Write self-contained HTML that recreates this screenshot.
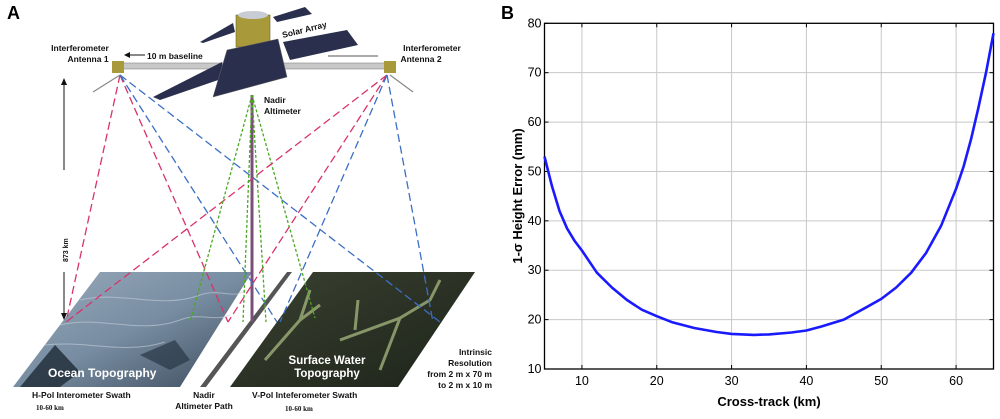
<!DOCTYPE html>
<html><head><meta charset="utf-8"><style>
html,body{margin:0;padding:0;background:#fff;}
svg{display:block;font-family:"Liberation Sans",sans-serif;}
</style></head><body>
<svg id="fig" width="1000" height="419" viewBox="0 0 1000 419">
<defs>
<linearGradient id="oc" x1="0" y1="0" x2="1" y2="1"><stop offset="0" stop-color="#9aabbc"/><stop offset="0.5" stop-color="#788da2"/><stop offset="1" stop-color="#3a4858"/></linearGradient>
<linearGradient id="sw" x1="0" y1="0" x2="1" y2="1"><stop offset="0" stop-color="#3a4232"/><stop offset="1" stop-color="#1d2319"/></linearGradient>
</defs>
<g>
<text x="7" y="19" font-size="18" font-weight="bold">A</text>
<polygon points="13,387 100,272 252,272 180,387" fill="url(#oc)"/>
<g stroke="#c5d0db" stroke-width="1" fill="none" opacity="0.6">
<path d="M80,300 C120,290 160,310 200,295 C220,288 235,300 245,290"/>
<path d="M60,325 C100,315 140,335 180,320 C200,312 215,322 230,315"/>
<path d="M45,345 C85,340 125,355 165,342"/>
</g>
<polygon points="20,387 55,345 80,372 60,387" fill="#1e2a36" opacity="0.8"/>
<polygon points="140,355 175,340 190,360 170,370" fill="#2a3846" opacity="0.7"/>
<polygon points="200,387 287,272 292,272 206,387" fill="#555"/>
<polygon points="230,387 313,272 475,272 398,387" fill="url(#sw)"/>
<g stroke="#9fb07a" stroke-width="3" fill="none" opacity="0.8">
<path d="M265,360 L300,320 L320,305 M300,320 L310,290"/>
<path d="M340,340 L400,318 L430,300 L440,280 M400,318 L380,370"/>
<path d="M355,330 L358,300"/>
</g>
<text x="48" y="377" font-size="12" font-weight="bold" fill="#fff">Ocean Topography</text>
<text x="327" y="364" font-size="11.5" font-weight="bold" fill="#fff" text-anchor="middle">Surface Water</text>
<text x="327" y="377" font-size="11.5" font-weight="bold" fill="#fff" text-anchor="middle">Topography</text>
<line x1="252" y1="95" x2="252" y2="322" stroke="#7a4f7a" stroke-width="3"/>
<g fill="none" stroke-width="1.3" stroke-dasharray="8,4">
<g stroke="#d8336a">
<line x1="120" y1="75" x2="66" y2="322"/><line x1="120" y1="75" x2="228" y2="322"/>
<line x1="387" y1="75" x2="66" y2="322"/><line x1="387" y1="75" x2="228" y2="322"/>
</g>
<g stroke="#3c6fc4">
<line x1="120" y1="75" x2="277" y2="322"/><line x1="120" y1="75" x2="440" y2="322"/>
<line x1="387" y1="75" x2="280" y2="322"/><line x1="387" y1="75" x2="433" y2="322"/>
</g>
<g stroke="#4aa820" stroke-dasharray="3,2">
<line x1="252" y1="95" x2="190" y2="322"/><line x1="252" y1="95" x2="243" y2="322"/>
<line x1="252" y1="95" x2="266" y2="322"/><line x1="252" y1="95" x2="315" y2="318"/>
</g>
</g>
<g>
<rect x="120" y="63" width="270" height="6" fill="#c8c8c8" stroke="#888" stroke-width="0.6"/>
<polygon points="200,42 233,23 235,32 203,43" fill="#2a2f4d"/>
<polygon points="273,17 305,7 312,14 277,22" fill="#2a2f4d"/>
<rect x="236" y="15" width="34" height="32" fill="#a89a3a" stroke="#6e6420" stroke-width="0.6"/>
<ellipse cx="253" cy="15" rx="15" ry="4" fill="#c8ccd4"/>
<polygon points="153,97 222,62 224,78 160,100" fill="#2a2f4d"/>
<polygon points="283,42 347,30 358,45 290,60" fill="#2a2f4d"/>
<polygon points="227,50 278,39 287,77 213,97" fill="#2a2f4d" stroke="#666" stroke-width="0.5"/>
<rect x="112" y="61" width="12" height="12" fill="#a89a3a"/>
<rect x="384" y="61" width="12" height="12" fill="#a89a3a"/>
<line x1="120" y1="75" x2="93" y2="92" stroke="#888" stroke-width="1.2"/>
<line x1="390" y1="75" x2="413" y2="92" stroke="#888" stroke-width="1.2"/>
</g>
<g font-size="8.5" font-weight="bold" fill="#111">
<text x="80" y="51" text-anchor="middle">Interferometer</text>
<text x="88" y="62" text-anchor="middle">Antenna 1</text>
<text x="432" y="51" text-anchor="middle">Interferometer</text>
<text x="421" y="62" text-anchor="middle">Antenna 2</text>
<text x="147" y="59">10 m baseline</text>
<line x1="126" y1="55" x2="145" y2="55" stroke="#111"/><polygon points="124,55 130,52 130,58" fill="#111"/>
<line x1="328" y1="56" x2="378" y2="56" stroke="#555"/>
<text x="283" y="38" transform="rotate(-14 283 38)">Solar Array</text>
<text x="264" y="103">Nadir</text><text x="264" y="114">Altimeter</text>
<line x1="64" y1="80" x2="64" y2="170" stroke="#111"/><polygon points="64,78 61,85 67,85" fill="#111"/>
<line x1="64" y1="272" x2="64" y2="318" stroke="#111"/><polygon points="64,320 61,313 67,313" fill="#111"/>
<text x="68" y="262" transform="rotate(-90 68 262)" font-size="7">873 km</text>
<text x="32" y="398">H-Pol Interometer Swath</text>
<text x="36" y="410" font-size="7" font-family="Liberation Serif,serif">10-60 km</text>
<text x="204" y="398" text-anchor="middle">Nadir</text>
<text x="204" y="409" text-anchor="middle">Altimeter Path</text>
<text x="252" y="398">V-Pol Inteferometer Swath</text>
<text x="285" y="411" font-size="7" font-family="Liberation Serif,serif">10-60 km</text>
<g text-anchor="end"><text x="492" y="355">Intrinsic</text><text x="492" y="366">Resolution</text><text x="492" y="377">from 2 m x 70 m</text><text x="492" y="388">to 2 m x 10 m</text></g>
</g>
</g>
<g id="chart">
<text x="501" y="19" font-size="18" font-weight="bold">B</text>
</g>
</svg>
<script>
const xTicks = [10, 20, 30, 40, 50, 60];
const yTicks = [10, 20, 30, 40, 50, 60, 70, 80];
const crossTrack = [5, 6, 7, 8, 9, 10, 12, 14, 16, 18, 20, 22, 25, 28, 30, 33, 35, 38, 40, 42, 45, 48, 50, 52, 54, 56, 58, 60, 61, 62, 63, 64, 65];
const heightError = [53, 47, 42, 38.5, 36, 34, 29.5, 26.5, 24, 22, 20.7, 19.5, 18.3, 17.5, 17.1, 16.9, 17, 17.4, 17.8, 18.6, 20, 22.5, 24.2, 26.5, 29.5, 33.5, 39, 46.5, 51, 56.5, 63, 70, 78];
const NS = 'http://www.w3.org/2000/svg';
const L = 544.5, R = 993.5, T = 23.3, B = 369;
const xMin = 5, xMax = 65, yMin = 10, yMax = 80;
function sx(v){ return L + (v - xMin) / (xMax - xMin) * (R - L); }
function sy(v){ return B - (v - yMin) / (yMax - yMin) * (B - T); }
const g = document.getElementById('chart');
function mk(tag, attrs){ const e = document.createElementNS(NS, tag); for (const k in attrs) e.setAttribute(k, attrs[k]); g.appendChild(e); return e; }
xTicks.forEach(v => {
  const l = mk('line', {x1: sx(v), x2: sx(v), y1: T, y2: B, stroke: '#c8c8c8', 'stroke-width': 1});
  
  
  mk('line', {x1: sx(v), x2: sx(v), y1: B, y2: B - 4, stroke: '#000'});
  mk('line', {x1: sx(v), x2: sx(v), y1: T, y2: T + 4, stroke: '#000'});
  const t = mk('text', {x: sx(v), y: B + 16, 'font-size': 12.5, 'text-anchor': 'middle'});
  t.textContent = v;
  
  
});
yTicks.forEach(v => {
  if (v !== yMin && v !== yMax) {
    const l = mk('line', {x1: L, x2: R, y1: sy(v), y2: sy(v), stroke: '#c8c8c8', 'stroke-width': 1});
    
    
  }
  mk('line', {x1: L, x2: L + 4, y1: sy(v), y2: sy(v), stroke: '#000'});
  mk('line', {x1: R, x2: R - 4, y1: sy(v), y2: sy(v), stroke: '#000'});
  const t = mk('text', {x: L - 3, y: sy(v) + 4, 'font-size': 12.5, 'text-anchor': 'end'});
  t.textContent = v;
  
  
});
const frame = mk('rect', {x: L, y: T, width: R - L, height: B - T, fill: 'none', stroke: '#000', 'stroke-width': 1.3});


const pts = crossTrack.map((x, i) => sx(x).toFixed(1) + ',' + sy(heightError[i]).toFixed(1)).join(' ');
const line = mk('polyline', {points: pts, fill: 'none', stroke: '#1a1aff', 'stroke-width': 2.6, 'stroke-linejoin': 'round'});


const xt = mk('text', {x: (L + R) / 2, y: 406, 'font-size': 13, 'font-weight': 'bold', 'text-anchor': 'middle'});
xt.textContent = 'Cross-track (km)';


const yt = mk('text', {x: 0, y: 0, 'font-size': 13, 'font-weight': 'bold', 'text-anchor': 'middle', transform: 'translate(522,196) rotate(-90)'});
yt.textContent = '1-σ Height Error (mm)';


</script>
</body></html>
